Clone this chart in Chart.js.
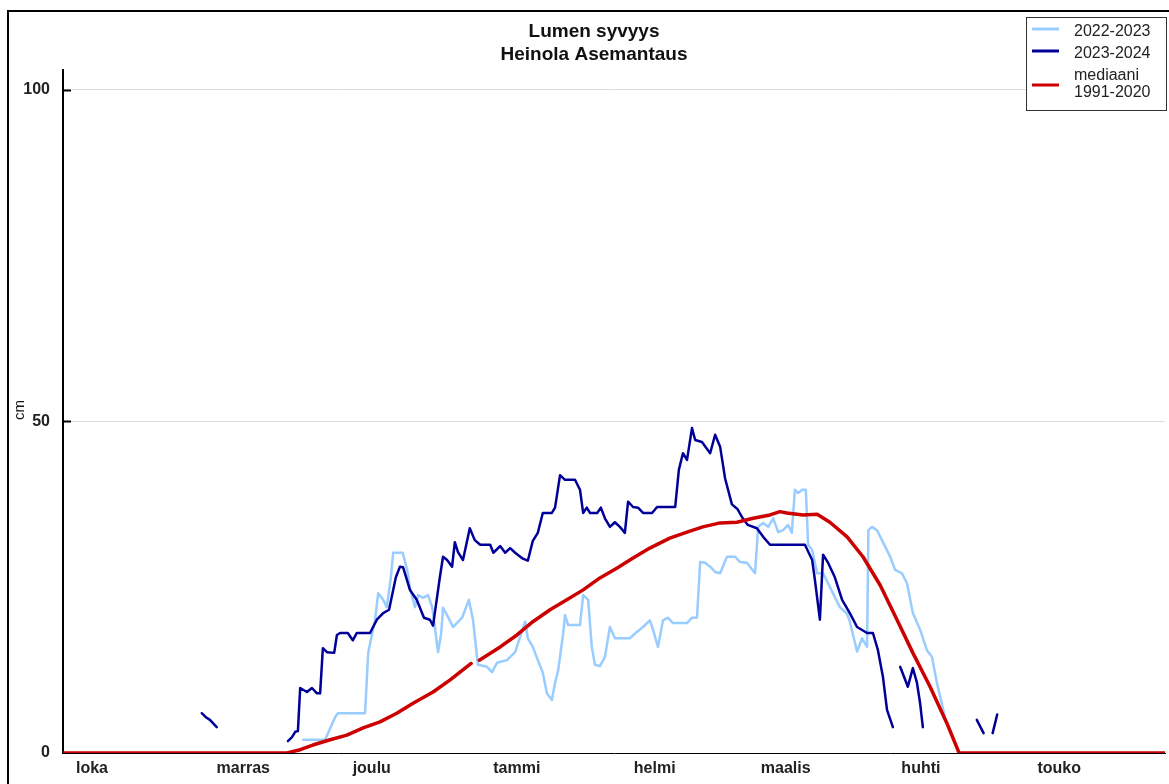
<!DOCTYPE html>
<html>
<head>
<meta charset="utf-8">
<script src="https://cdn.jsdelivr.net/npm/chart.js@4/dist/chart.umd.min.js"></script>
<style>
html,body{margin:0;padding:0;background:#fff}
canvas{display:block}
</style>
</head>
<body>
<canvas id="c" width="1169" height="784"></canvas>
<script>
// month labels, day index counted from 1 Oct
const months=["loka","marras","joulu","tammi","helmi","maalis","huhti","touko"];
const monthStart=[0,31,61,92,123,151,182,212];
const yTicks=[0,50,100];
const names=["2022-2023","2023-2024","mediaani","1991-2020"];

// 2022-2023 snow depth (cm)
const days2223=[53,57.8,60,60.6,66.6,67.3,68,68.8,69.5,70.6,71.4,72.3,72.8,74.9,75.9,76.5,77.6,78.3,79.4,80.5,81.4,82,82.7,83.4,83.8,84.7,86,88,89.5,90.4,91.5,93.5,94.6,95.7,97.9,99.7,100.8,101.9,102.5,103.6,104.7,105.8,106.7,107.8,108.5,109.2,110.3,110.7,111.4,114,114.7,115.8,116.6,117.3,118.4,119.5,120.6,121.7,125,126.6,127.9,129.4,130.1,131.2,132.3,133.4,134.5,137.6,138.7,139.8,140.5,141.6,142.7,143.8,144.9,146.4,148.2,149.3,150.8,152.6,153.3,154.4,155.5,156.6,157.7,158.8,159.9,160.7,161.4,162.1,163,163.8,164.3,165.2,166.3,167.6,168.7,170.2,171.3,172.9,173.5,175.1,176.2,177.3,177.6,178.4,179.5,180.8,182.4,183.5,185,186.1,187.4,189,190.5,191.6,192.7,194,194.6];
const snow2223=[2,2,5.4,6,6,15.1,17.5,20,24.1,23.1,22,26.5,30.2,30.2,27.6,24.9,22,23.8,23.4,23.8,22,19,15.2,18.1,21.9,20.8,19,20.4,23.1,20.1,13.3,13,12.2,13.6,14,15.2,17.5,19.8,17.3,16,14,12.1,9,8,10.6,12.5,18.1,20.8,19.3,19.3,23.8,23.1,16,13.3,13.1,14.5,19,17.3,17.3,18.3,19,20,18.6,16,20,20.4,19.6,19.6,20.4,20.4,28.8,28.7,28.1,27.3,27.1,29.6,29.6,28.8,28.7,27.1,34.1,34.7,34.1,35.4,33.3,33.6,34.4,33.2,39.7,39.2,39.7,39.7,31.4,30.6,27.1,27.1,25.6,23.5,22,21,19.8,15.3,17.3,16,33.6,34.1,33.6,31.8,29.6,27.6,27.1,25.6,21.1,18.6,15.5,14.5,10.6,6.8,5];

// 2023-2024 snow depth (cm), null = no observation
const days2324=[30.6,31.5,32.4,33.9,35,49.6,50.5,51.2,51.8,52.3,53.8,54.9,56,56.7,57.3,58.2,59.8,60.4,61.1,62.8,63.9,64.8,67.7,69.2,70.6,71.9,73.4,74.3,75,76.5,78,79.6,80.9,81.6,82.4,83.1,83.8,84.7,85.8,86.4,87.1,88.2,89.7,90.8,92,94.2,94.9,96.4,97.5,98.6,99.7,101.4,102.5,103.6,104.7,105.8,107.8,108.5,109.6,110.7,112.9,114,114.7,115.5,116.2,117.8,118.6,119.5,120.6,121.7,122.8,123.9,124.6,125.7,126.8,127.9,129.9,131,135,135.8,136.7,137.6,138.7,139.4,140.9,142.7,143.8,144.9,146,147.5,148.7,149.7,151,153,154.4,155.9,163.6,165.2,165.8,166.9,167.6,168.7,170.2,171.8,173.5,175.1,177.3,178.6,179.7,180.8,181.7,183,183.8,184.6,186.3,187.4,188.3,189,189.6,190.5,201.5,203,204,205,206];
const snow2324=[6,5.4,5,3.9,null,1.8,2.4,3.2,3.3,9.8,9.2,9.8,9,9,15.8,15.2,15.1,17.8,18.1,18.1,17,18.1,18.1,20.1,21.1,21.6,26.5,28.1,28,24.6,23.1,20.4,20.1,19.2,23.1,26.5,29.6,29.1,28.1,31.8,30.3,29.1,33.9,32.1,31.4,31.4,30.2,31.2,30.2,30.9,30.2,29.3,29,32,33.2,36.2,36.2,37,41.9,41.2,41.2,39.7,36.2,37,36.2,36.2,37,35.4,34.1,34.8,34.1,33.2,37.9,37.1,37,36.2,36.2,37.1,37.1,42.7,45.2,44.2,49,47.2,46.9,45.2,48,46.2,41.4,37.5,36.8,35.6,34.4,33.9,32.6,31.4,31.4,29.1,26.1,20.1,29.9,28.7,26.5,23.1,21.1,19,18.1,18.1,15.5,11.5,6.5,3.9,null,13,10,12.8,10.6,7.5,3.9,null,5,3,null,3,5.8];

// median 1991-2020 (cm)
const daysMed=[0,49.4,52.3,55.1,58.9,62.6,66.2,69.9,73.6,77.2,81.6,85.3,90,91,91.8,96.4,100.1,103.6,107.4,111.1,114.7,118.4,122.2,125.7,129.4,133.8,137.6,141.1,144.9,148.6,152.2,155.9,158.1,159.6,163.2,166.3,169.1,172.9,176.4,180.2,183.9,187.4,191.2,194.9,197.6,243];
const snowMed=[0,0,0.5,1.2,2,2.7,3.8,4.7,6,7.5,9.2,11,13.5,null,14,16,17.8,19.8,21.6,23.1,24.6,26.4,27.9,29.4,30.9,32.4,33.3,34.1,34.7,34.8,35.4,35.9,36.4,36.2,35.9,36,34.8,32.6,29.6,25.3,20.1,15.1,10,4.5,0,0];

const LIGHT="#99ccff",DARK="#000099",RED="#cc0000";
const FONT="'Liberation Sans', Arial, sans-serif";

function pts(d,v){return d.map((x,i)=>({x:x,y:v[i]}));}

const deco={
  id:"deco",
  afterDraw(chart){
    const ctx=chart.ctx, y=chart.scales.y, area=chart.chartArea;
    ctx.save();
    // outer frame
    ctx.strokeStyle="#000";ctx.lineWidth=2;
    ctx.strokeRect(8,11,1180,800);
    // small inner ticks
    ctx.lineWidth=2;
    [50,100].forEach(v=>{
      const py=Math.round(y.getPixelForValue(v))+0.5;
      ctx.beginPath();ctx.moveTo(area.left,py);ctx.lineTo(area.left+8,py);ctx.stroke();
    });
    // title
    ctx.fillStyle="#111";ctx.textAlign="center";ctx.textBaseline="alphabetic";
    ctx.font="bold 19px "+FONT;
    ctx.fillText("Lumen syvyys",594,37);
    ctx.fillText("Heinola Asemantaus",594,60);
    // axis title
    ctx.save();
    ctx.translate(24,410);ctx.rotate(-Math.PI/2);
    ctx.font="15px "+FONT;ctx.fillText("cm",0,0);
    ctx.restore();
    // legend
    ctx.fillStyle="#fff";ctx.fillRect(1026,17,141,94);
    ctx.strokeStyle="#333";ctx.lineWidth=1;
    ctx.strokeRect(1026.5,17.5,140,93);
    const rows=[[LIGHT,29],[DARK,51],[RED,85]];
    ctx.lineWidth=3;
    rows.forEach(r=>{ctx.strokeStyle=r[0];ctx.beginPath();ctx.moveTo(1032,r[1]);ctx.lineTo(1059,r[1]);ctx.stroke();});
    ctx.fillStyle="#222";ctx.textAlign="left";ctx.font="16px "+FONT;
    ctx.fillText(names[0],1074,36);
    ctx.fillText(names[1],1074,58);
    ctx.fillText(names[2],1074,80);
    ctx.fillText(names[3],1074,97);
    ctx.restore();
  }
};

new Chart(document.getElementById("c"),{
  type:"line",
  data:{datasets:[
    {label:names[0],data:pts(days2223,snow2223),borderColor:LIGHT,borderWidth:2.5,order:2},
    {label:names[1],data:pts(days2324,snow2324),borderColor:DARK,borderWidth:2.5,order:1},
    {label:names[2]+" "+names[3],data:pts(daysMed,snowMed),borderColor:RED,borderWidth:3.5,order:0}
  ]},
  options:{
    responsive:false,animation:false,devicePixelRatio:1,
    layout:{padding:{left:0,right:4,top:70,bottom:0}},
    plugins:{legend:{display:false},title:{display:false},tooltip:{enabled:false}},
    elements:{point:{radius:0},line:{tension:0,borderJoinStyle:"round",borderCapStyle:"round",fill:false}},
    scales:{
      x:{type:"linear",min:0,max:243,
        afterFit:s=>{s.height=31;},
        afterBuildTicks:s=>{s.ticks=monthStart.map(v=>({value:v}));},
        grid:{display:false,drawTicks:false},
        border:{display:true,color:"#000",width:1,z:1},
        ticks:{autoSkip:false,maxRotation:0,align:"start",labelOffset:13,padding:6,color:"#222",
          font:{family:FONT,size:16,weight:"bold"},callback:(v,i)=>months[i]}
      },
      y:{min:0,max:103,
        afterFit:s=>{s.width=63;},
        afterBuildTicks:s=>{s.ticks=yTicks.map(v=>({value:v}));},
        grid:{color:c=>(c.tick&&c.tick.value===0)?"rgba(0,0,0,0)":"#dcdcdc",lineWidth:1,drawTicks:false},
        border:{display:true,color:"#000",width:2},
        ticks:{padding:13,color:"#222",font:{family:FONT,size:16,weight:"bold"},callback:v=>String(v)}
      }
    }
  },
  plugins:[deco]
});
</script>
</body>
</html>
